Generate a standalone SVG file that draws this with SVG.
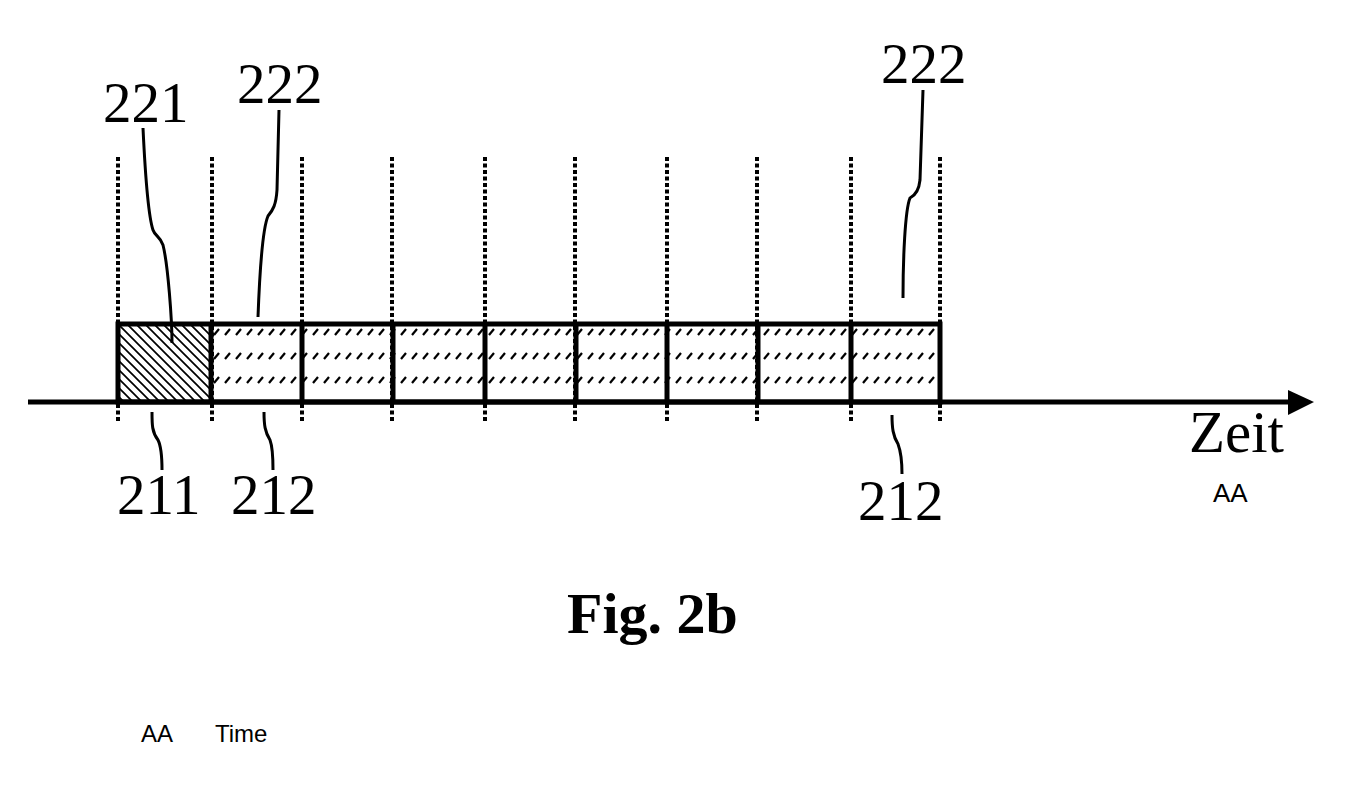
<svg xmlns="http://www.w3.org/2000/svg" width="1364" height="794" viewBox="0 0 1364 794">
<style>
.num{font-family:"Liberation Serif","Times New Roman",serif;font-size:57px;fill:#000}
.sans{font-family:"Liberation Sans",Arial,sans-serif;font-size:24px;fill:#000}
.lead{fill:none;stroke:#000;stroke-width:3}
.dot{stroke:#000;stroke-width:4;stroke-dasharray:4 2.5}
.div{stroke:#000;stroke-width:5}
</style>
<defs>
<pattern id="h221" patternUnits="userSpaceOnUse" width="9" height="9" x="118" y="324">
<path d="M0,0 L9,9 M-1,8 L1,10 M8,-1 L10,1" stroke="#000" stroke-width="1.7"/>
</pattern>
<pattern id="h222" patternUnits="userSpaceOnUse" width="11" height="24" x="211" y="324">
<path d="M3,11 L8,5" stroke="#000" stroke-width="2.2"/>
</pattern>
</defs>
<g id="segments">
<rect x="118" y="324" width="93" height="78" fill="url(#h221)"/>
<rect x="211" y="324" width="729" height="78" fill="url(#h222)"/>
<rect x="118" y="324" width="822" height="78" fill="none" stroke="#000" stroke-width="5"/>
<line class="div" x1="211" y1="324" x2="211" y2="402"/>
<line class="div" x1="302" y1="324" x2="302" y2="402"/>
<line class="div" x1="393" y1="324" x2="393" y2="402"/>
<line class="div" x1="485" y1="324" x2="485" y2="402"/>
<line class="div" x1="576" y1="324" x2="576" y2="402"/>
<line class="div" x1="667" y1="324" x2="667" y2="402"/>
<line class="div" x1="758" y1="324" x2="758" y2="402"/>
<line class="div" x1="851" y1="324" x2="851" y2="402"/>
</g>
<g id="gridlines">
<line class="dot" x1="118" y1="157" x2="118" y2="421"/>
<line class="dot" x1="212" y1="157" x2="212" y2="421"/>
<line class="dot" x1="302" y1="157" x2="302" y2="421"/>
<line class="dot" x1="392" y1="157" x2="392" y2="421"/>
<line class="dot" x1="485" y1="157" x2="485" y2="421"/>
<line class="dot" x1="575" y1="157" x2="575" y2="421"/>
<line class="dot" x1="667" y1="157" x2="667" y2="421"/>
<line class="dot" x1="757" y1="157" x2="757" y2="421"/>
<line class="dot" x1="851" y1="157" x2="851" y2="421"/>
<line class="dot" x1="940" y1="157" x2="940" y2="421"/>
</g>
<g id="axis">
<line x1="28" y1="402" x2="1292" y2="402" stroke="#000" stroke-width="5"/>
<polygon points="1288,390 1314,402 1288,415" fill="#000"/>
<text class="num" x="1189" y="452" style="font-size:59px">Zeit</text>
<text class="sans" x="1213" y="502" style="font-size:26px">AA</text>
</g>
<g id="connectors">
<path class="lead" d="M143,128 C145,170 148,215 153,230 C155,236 160,236 163,245 C168,265 172,320 172,343"/>
<path class="lead" d="M279,110 L277,190 C276,205 273,210 268,216 C262,230 259,290 258,317"/>
<path class="lead" d="M923,90 L920,180 C919,190 916,195 910,198 C905,210 903,260 903,298"/>
<path class="lead" d="M152,412 C152,425 152,432 158,440 C162,448 162,460 162,470"/>
<path class="lead" d="M264,412 C264,425 265,432 270,440 C273,448 273,460 273,470"/>
<path class="lead" d="M892,415 C892,428 893,436 898,444 C901,452 902,462 902,474"/>
</g>
<g id="labels">
<text class="num" x="103" y="122">221</text>
<text class="num" x="237" y="103">222</text>
<text class="num" x="881" y="83">222</text>
<text class="num" x="117" y="514">211</text>
<text class="num" x="231" y="514">212</text>
<text class="num" x="858" y="520">212</text>
</g>
<g id="caption">
<text x="567" y="633" style="font-family:'Liberation Serif','Times New Roman',serif;font-size:58px;font-weight:bold">Fig. 2b</text>
<text class="sans" x="141" y="742">AA</text>
<text class="sans" x="215" y="742">Time</text>
</g>
</svg>
